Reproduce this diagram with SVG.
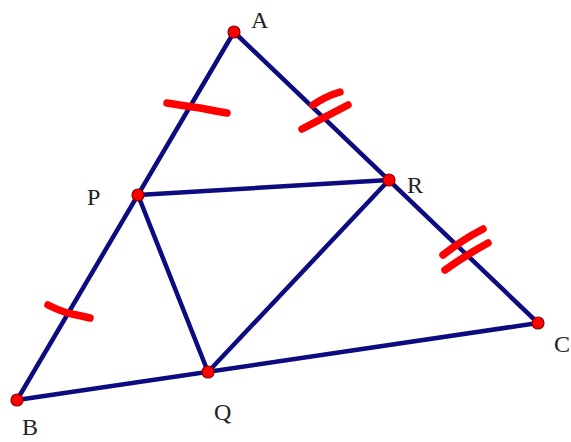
<svg xmlns="http://www.w3.org/2000/svg" width="571" height="442" viewBox="0 0 571 442">
<style>
.seg{stroke:#0c0c80;stroke-width:4.5;stroke-linecap:round;fill:none}
.tick{stroke:#ff0000;stroke-width:7.5;stroke-linecap:round;stroke-linejoin:round;fill:none}
.pt{fill:#ff0000;stroke:#8a0000;stroke-width:1.2}
.lbl{font-family:"Liberation Serif","Times New Roman",serif;font-size:24px;fill:#222}
</style>
<rect width="571" height="442" fill="#ffffff"/>
<g id="connectors">
<line class="seg" x1="234" y1="32" x2="17" y2="400"/>
<line class="seg" x1="234" y1="32" x2="538" y2="323"/>
<line class="seg" x1="17" y1="400" x2="538" y2="323"/>
<line class="seg" x1="138" y1="195" x2="389" y2="180"/>
<line class="seg" x1="138" y1="195" x2="208" y2="372"/>
<line class="seg" x1="389" y1="180" x2="208" y2="372"/>
</g>
<g id="ticks">
<path class="tick" d="M167,103 Q185,106 200,108 Q215,111 227,113"/>
<path class="tick" d="M48,305 Q62,312 72,314 Q82,316 90,318"/>
<path class="tick" d="M313,105 Q326,96 340,92"/>
<path class="tick" d="M302,129 Q325,117 348,105"/>
<path class="tick" d="M443,255 Q462,240 483,229"/>
<path class="tick" d="M445,270 Q466,255 488,243"/>
</g>
<g id="A"><circle class="pt" cx="234" cy="32" r="6"/><text class="lbl" x="251" y="28">A</text></g>
<g id="B"><circle class="pt" cx="17" cy="400" r="6"/><text class="lbl" x="22" y="435">B</text></g>
<g id="C"><circle class="pt" cx="538" cy="323" r="6"/><text class="lbl" x="554" y="352">C</text></g>
<g id="P"><circle class="pt" cx="138" cy="195" r="6"/><text class="lbl" x="87" y="205">P</text></g>
<g id="Q"><circle class="pt" cx="208" cy="372" r="6"/><text class="lbl" x="214" y="420">Q</text></g>
<g id="R"><circle class="pt" cx="389" cy="180" r="6"/><text class="lbl" x="407" y="193">R</text></g>
</svg>
